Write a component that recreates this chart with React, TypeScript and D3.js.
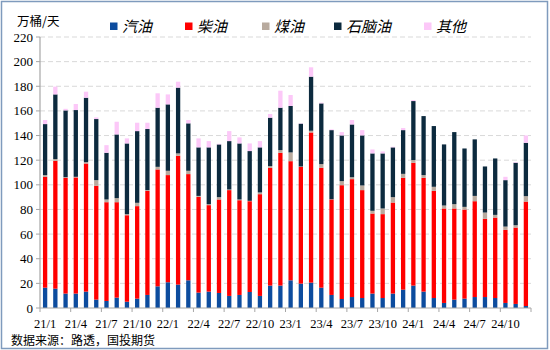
import * as d3 from "d3";

// 2021/1 - 2024/12, 万桶/天
const months = d3.range(48).map((i) => `${21 + Math.floor(i / 12)}/${(i % 12) + 1}`);

const gasoline = [
  16.5, 15.7, 11.7, 11.7, 13.3, 6.8, 5.7, 8.4, 5.1, 7.6, 10.6, 17.6,
  20.9, 19.0, 22.5, 12.5, 13.3, 12.2, 9.8, 10.6, 13.0, 9.8, 18.2, 18.2,
  22.5, 19.8, 20.6, 16.5, 10.6, 7.3, 8.9, 8.1, 11.7, 8.1, 11.7, 14.9,
  18.2, 13.3, 8.1, 4.1, 6.8, 7.6, 8.9, 8.9, 8.1, 4.1, 3.3, 1.6,
];
const diesel = [
  90.0, 103.8, 94.0, 94.3, 104.0, 92.4, 80.2, 77.5, 70.2, 75.1, 84.5, 94.9,
  87.0, 104.6, 86.2, 77.7, 70.2, 75.9, 85.9, 76.9, 73.7, 82.6, 95.6, 107.8,
  96.7, 94.8, 121.9, 97.3, 77.5, 92.4, 95.7, 87.6, 65.0, 68.1, 73.9, 90.8,
  99.7, 92.4, 87.0, 76.7, 74.0, 72.3, 77.8, 63.5, 65.3, 59.3, 62.0, 84.8,
];
const jet = [
  1.4, 1.4, 0.5, 0.5, 1.1, 4.6, 2.2, 3.3, 0.9, 2.7, 0.6, 2.1,
  3.5, 1.9, 2.7, 0.8, 0.8, 1.9, 0.5, 0.6, 0.3, 1.4, 1.4, 2.2,
  7.1, 0.3, 1.4, 3.0, 0.2, 3.3, 1.6, 3.8, 2.2, 4.6, 4.4, 3.2,
  2.2, 2.2, 3.3, 2.4, 3.5, 2.2, 4.3, 5.1, 2.2, 2.7, 1.9, 4.4,
];
const naphtha = [
  41.4, 52.5, 54.2, 54.2, 52.3, 49.6, 37.9, 51.7, 57.4, 58.2, 49.6, 48.0,
  53.9, 53.4, 38.5, 39.4, 46.1, 42.8, 39.3, 45.5, 40.4, 36.6, 39.3, 34.4,
  37.7, 34.7, 43.9, 49.3, 56.1, 37.1, 42.8, 40.6, 46.6, 44.7, 40.4, 35.5,
  47.9, 47.9, 49.3, 49.6, 58.5, 47.4, 45.9, 37.4, 45.8, 37.7, 50.7, 43.3,
];
const other = [
  3.3, 6.3, 1.3, 4.9, 4.9, 1.3, 6.2, 10.3, 4.1, 6.8, 5.1, 11.7,
  8.1, 4.8, 2.7, 7.3, 5.1, 0.5, 8.1, 4.9, 6.2, 5.1, 3.0, 13.8,
  8.9, 0.3, 7.6, 0.6, 0.6, 2.7, 3.6, 4.3, 3.2, 1.6, 0.5, 1.7,
  0.8, 0, 0, 0, 0, 0, 0, 0, 0, 2.7, 0.5, 6.0,
];

const seriesNames = ["汽油", "柴油", "煤油", "石脑油", "其他"];
const seriesColors = ["#0d4c9e", "#ff0000", "#b8aa9e", "#0c2a3e", "#fcc8f8"];
const yTicks = d3.range(0, 221, 20);

const W = 550;
const H = 350;
const margin = { top: 37, right: 19, bottom: 42, left: 40 };

export default function App() {
  const rows = months.map((m, i) => ({
    month: m,
    汽油: gasoline[i],
    柴油: diesel[i],
    煤油: jet[i],
    石脑油: naphtha[i],
    其他: other[i],
  }));
  const stacked = d3.stack<any>().keys(seriesNames)(rows);

  const x = d3
    .scaleBand()
    .domain(months)
    .range([margin.left, W - margin.right])
    .paddingInner(0.58)
    .paddingOuter(0.29);
  const y = d3.scaleLinear().domain([0, 220]).range([H - margin.bottom, margin.top]);

  const step = x.step();
  const x0 = margin.left;
  const x1 = W - margin.right;
  const yBase = y(0);
  const serif = "'Liberation Serif', 'Times New Roman', serif";
  const cjk = "'Noto Sans CJK SC', sans-serif";

  const legendX = [110, 185, 262, 334, 424];

  return (
    <svg width={W} height={H} style={{ position: "absolute", left: 0, top: 0, background: "#fff" }}>
      <rect x={1.5} y={1.5} width={546} height={347} fill="#fff" stroke="#7f9bbd" strokeWidth={1.5} />

      {/* gridlines */}
      {yTicks.slice(1).map((t) => (
        <line key={t} x1={x0} x2={x1} y1={y(t)} y2={y(t)} stroke="#d9d9d9" strokeDasharray="5,3" />
      ))}

      {/* bars */}
      {stacked.map((s, si) => (
        <g key={s.key} fill={seriesColors[si]}>
          {s.map((d, i) => {
            const h = y(d[0]) - y(d[1]);
            if (h <= 0) return null;
            return <rect key={i} x={x(months[i])} y={y(d[1])} width={x.bandwidth()} height={h} />;
          })}
        </g>
      ))}

      {/* y axis */}
      <line x1={x0} x2={x0} y1={margin.top} y2={yBase} stroke="#a6a6a6" strokeWidth={1.2} />
      {yTicks.map((t) => (
        <g key={t}>
          <line x1={x0 - 4} x2={x0} y1={y(t)} y2={y(t)} stroke="#a6a6a6" />
          <text x={33} y={y(t)} dy="0.35em" textAnchor="end" fontFamily={serif} fontSize={13} fill="#000">
            {t}
          </text>
        </g>
      ))}
      <text x={17} y={26} fontFamily={cjk} fontSize={12.5} fill="#000">
        万桶/天
      </text>

      {/* x axis */}
      <line x1={x0} x2={x1} y1={yBase} y2={yBase} stroke="#a6a6a6" strokeWidth={1.2} />
      {d3.range(0, 49, 3).map((k) => (
        <line key={k} x1={x0 + k * step} x2={x0 + k * step} y1={yBase} y2={yBase + 4} stroke="#a6a6a6" />
      ))}
      {months.map((m, i) =>
        i % 3 === 0 ? (
          <text
            key={m}
            x={(x(m) as number) + x.bandwidth() / 2}
            y={328}
            textAnchor="middle"
            fontFamily={serif}
            fontSize={12.5}
            fill="#000"
          >
            {m}
          </text>
        ) : null
      )}

      {/* legend */}
      {seriesNames.map((n, i) => (
        <g key={n}>
          <rect x={legendX[i]} y={22.5} width={7.5} height={7.5} fill={seriesColors[i]} />
          <text
            x={legendX[i] + 12}
            y={32}
            fontFamily={cjk}
            fontSize={15}
            fontStyle="italic"
            fill="#000"
          >
            {n}
          </text>
        </g>
      ))}

      <text x={11} y={345} fontFamily={cjk} fontSize={12} fill="#000">
        数据来源：路透，国投期货
      </text>
    </svg>
  );
}
